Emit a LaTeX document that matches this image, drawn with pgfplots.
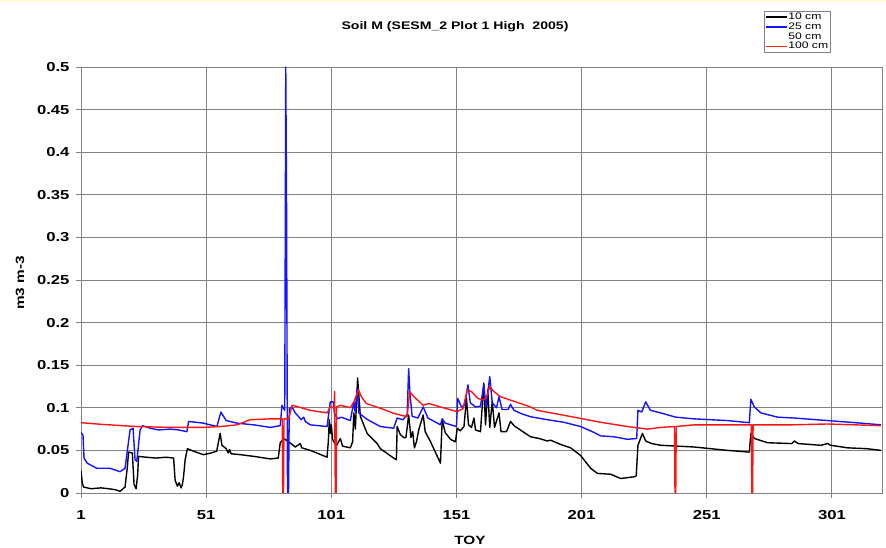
\documentclass[border=0pt]{standalone}
\usepackage{fontspec}
\setmainfont{Liberation Sans}[FakeStretch=1.28]
\usepackage{pgfplots}
\pgfplotsset{compat=1.18}
\definecolor{gridgray}{RGB}{130,130,130}
\definecolor{pyellow}{RGB}{255,250,215}
\definecolor{sblue}{RGB}{20,20,255}
\definecolor{sred}{RGB}{255,20,20}
\begin{document}
\begin{tikzpicture}[x=1pt,y=1pt]
\useasboundingbox (0,0) rectangle (886,548);
\fill[pyellow] (0,545.5) rectangle (886,548);
\begin{axis}[
  at={(81pt,55pt)}, anchor=south west,
  scale only axis, width=801pt, height=426pt,
  xmin=1, xmax=321, ymin=0, ymax=0.5,
  xtick={1,51,101,151,201,251,301},
  xticklabels={1,51,101,151,201,251,301},
  ytick={0,0.05,0.1,0.15,0.2,0.25,0.3,0.35,0.4,0.45,0.5},
  yticklabels={0,0.05,0.1,0.15,0.2,0.25,0.3,0.35,0.4,0.45,0.5},
  /pgf/number format/assume math mode=true,
  ticklabel style={font=\fontsize{13}{15}\selectfont\bfseries},
  xticklabel style={yshift=-9pt},
  yticklabel style={xshift=-3pt},
  tick pos=left, tick align=outside, major tick length=5pt,
  tick style={draw=gridgray, line width=0.9pt},
  axis line style={draw=gridgray, line width=0.9pt},
  grid=major,
  grid style={draw=gridgray, line width=0.9pt},
  legend style={at={(axis description cs:0.8527,1.132)}, anchor=north west,
    draw=gridgray, inner sep=1.2pt,
    font=\fontsize{9.5}{10}\selectfont,
    nodes={inner sep=0.6pt, text height=6.8pt, text depth=1.8pt}},
  legend cell align=left,
  legend image code/.code={\draw[line width=1.3pt] (0pt,0pt) -- (21pt,0pt);},
  line join=round,
]
\addplot[black, line width=1.4pt] coordinates {
(1,0.026) (1.5,0.012) (2,0.007) (5,0.005) (9,0.006) (12,0.005) (14.5,0.004)
(16.6,0.002) (18.6,0.007) (19.5,0.030) (20,0.048) (21.5,0.047) (22.2,0.010)
(23,0.005) (23.6,0.020) (24,0.043) (27,0.042) (31,0.041) (35,0.042) (38,0.041)
(38.6,0.015) (39.5,0.008) (40.2,0.012) (41,0.006) (41.5,0.010) (42,0.020)
(42.6,0.039) (43.5,0.052) (46,0.049) (49.9,0.045) (53,0.047) (55.2,0.049)
(56.6,0.070) (57.3,0.056) (59,0.052) (59.8,0.047) (60.3,0.051) (61,0.046)
(64.6,0.045) (70,0.043) (76.6,0.040) (79.8,0.041) (80.6,0.059) (82,0.064)
(84,0.060) (86.6,0.054) (88.6,0.058) (89.2,0.053) (92.6,0.050) (96,0.046)
(99.3,0.042) (99.8,0.060) (100.2,0.086) (100.6,0.070) (101,0.080) (101.5,0.063)
(103,0.055) (104.6,0.064) (105.5,0.055) (108.6,0.053) (109.5,0.060) (110,0.094)
(110.6,0.075) (111.5,0.135) (112.6,0.090) (115.3,0.070) (119.3,0.058)
(120.6,0.052) (125.9,0.041) (127,0.039) (127.3,0.078) (128.5,0.069)
(129.9,0.065) (130.8,0.065) (131.9,0.0915) (132.8,0.065) (133.5,0.072)
(134.2,0.053) (135,0.060) (136,0.075) (137.7,0.0915) (138.5,0.072)
(140.5,0.061) (144.6,0.035) (145.3,0.086) (146.5,0.071) (148.6,0.063)
(150.6,0.060) (151.3,0.076) (152.5,0.073) (154,0.078) (155,0.111) (155.8,0.080)
(157,0.077) (158,0.088) (158.6,0.074) (160.6,0.072) (161.9,0.129) (162.6,0.080)
(163.5,0.121) (164.3,0.077) (165.3,0.108) (166.2,0.077) (168,0.094)
(168.8,0.072) (171,0.072) (172.6,0.084) (174,0.079) (177,0.073) (180.6,0.066)
(184,0.064) (187.3,0.061) (188.6,0.062) (192.6,0.057) (196.6,0.053)
(200.6,0.044) (204.6,0.029) (207.3,0.023) (212.6,0.022) (216.6,0.017)
(221.9,0.019) (222.8,0.020) (223.5,0.056) (225.3,0.070) (226.6,0.061)
(229,0.058) (232.6,0.056) (239.3,0.055) (245.9,0.054) (252.6,0.052)
(259.3,0.050) (268,0.048) (268.6,0.070) (270,0.064) (275.3,0.059) (285,0.058)
(286,0.061) (287.5,0.058) (296.6,0.056) (299.3,0.058) (300.5,0.056)
(307.3,0.053) (315,0.052) (320.6,0.050)
};
\addlegendentry{10 cm}
\addplot[sblue, line width=1.4pt] coordinates {
(1,0.071) (1.8,0.068) (2.2,0.041) (3.5,0.035) (7.3,0.029) (12.6,0.029)
(16.6,0.025) (18.6,0.029) (20.6,0.074) (21.8,0.076) (22.6,0.039) (23.3,0.037)
(24.6,0.074) (25.6,0.079) (28.6,0.076) (32,0.074) (36.6,0.075) (40,0.074)
(43.3,0.072) (44,0.084) (49.9,0.082) (55.3,0.078) (56.9,0.095) (59,0.085)
(63.3,0.082) (70,0.080) (76.6,0.077) (80.6,0.079) (81.3,0.103) (82.4,0.097)
(82.8,0.500) (83.1,0.355) (83.5,0.000) (83.9,0.000) (84.2,0.099) (85.3,0.101)
(86.6,0.094) (89,0.086) (90,0.089) (90.6,0.084) (92.6,0.080) (99.3,0.078)
(100.6,0.107) (101.8,0.107) (102.2,0.094) (103.5,0.087) (105,0.089)
(108.6,0.085) (110,0.107) (110.5,0.095) (111.3,0.122) (112,0.094) (115,0.087)
(119.3,0.080) (120.6,0.078) (125.9,0.076) (127.3,0.088) (129.6,0.086)
(131.3,0.092) (131.9,0.146) (132.4,0.117) (133.3,0.090) (135.6,0.088)
(137.7,0.101) (139.6,0.088) (144.6,0.080) (145.3,0.087) (146.5,0.082)
(151,0.078) (151.5,0.111) (153,0.101) (154.3,0.103) (155.6,0.127)
(156.5,0.106) (158.6,0.101) (160.6,0.102) (161.9,0.127) (162.8,0.101)
(164.3,0.1365) (165.3,0.106) (167,0.100) (168,0.113) (169.2,0.098)
(171.6,0.098) (172.6,0.104) (174,0.097) (177,0.093) (180.6,0.0895)
(187.3,0.086) (193.9,0.083) (200.6,0.078) (206,0.071) (208.6,0.067)
(213.9,0.066) (219.3,0.063) (223,0.064) (223.5,0.097) (225,0.095)
(226.6,0.107) (228.5,0.097) (232.6,0.094) (238.6,0.089) (245.9,0.087)
(252.6,0.086) (259.3,0.085) (268,0.0825) (268.6,0.110) (270,0.101)
(272.6,0.094) (279.3,0.089) (285.9,0.088) (299.3,0.085) (312.6,0.082)
(320.6,0.080)
};
\addlegendentry{25 cm}
\addlegendimage{white}
\addlegendentry{50 cm}
\addplot[sred, line width=1.4pt] coordinates {
(1,0.0825) (9.6,0.0805) (23,0.078) (36.6,0.077) (49.9,0.077) (56.6,0.078)
(63.3,0.080) (68.6,0.086) (76.6,0.087) (81.4,0.087) (81.6,0.000) (81.9,0.000)
(82.1,0.087) (84,0.087) (85.3,0.103) (88,0.101) (92.6,0.097) (99.3,0.094)
(100.6,0.101) (102.1,0.100) (102.3,0.119) (102.6,0.000) (102.9,0.000)
(103.1,0.101) (104.6,0.103) (108.6,0.100) (110,0.107) (111.9,0.121)
(113,0.113) (115,0.105) (120.6,0.0995) (125.9,0.0935) (131.3,0.0895)
(132.3,0.119) (134,0.113) (137.7,0.103) (140,0.105) (144.6,0.101)
(151.3,0.0955) (153.6,0.099) (155.3,0.121) (157,0.119) (159.6,0.111)
(161.9,0.109) (163.3,0.115) (164.3,0.125) (166,0.119) (168.6,0.113)
(172.6,0.109) (180.6,0.101) (183.3,0.097) (192.6,0.092) (203.3,0.086)
(208.6,0.083) (219.3,0.078) (227.3,0.075) (232.6,0.077) (238.1,0.078)
(238.3,0.000) (238.6,0.000) (238.8,0.078) (245.9,0.080) (259.3,0.080)
(268.8,0.080) (269,0.000) (269.3,0.000) (269.5,0.080) (285,0.080)
(299.3,0.081) (310,0.080) (320.6,0.079)
};
\addlegendentry{100 cm}
\end{axis}
\node[font=\fontsize{11}{13}\selectfont\bfseries] at (455,521) {Soil M (SESM\_2 Plot 1 High\ \ 2005)};
\node[font=\fontsize{12}{14}\selectfont\bfseries] at (470,8) {TOY};
\node[font=\fontsize{12}{14}\selectfont\bfseries, rotate=90] at (20,265) {m3 m-3};
\end{tikzpicture}
\end{document}
